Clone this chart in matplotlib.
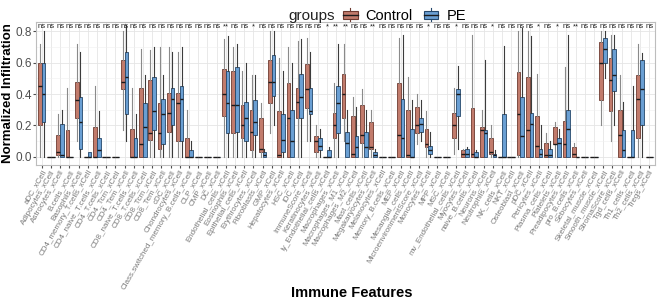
import numpy as np
import matplotlib
matplotlib.use("Agg")
import matplotlib.pyplot as plt
from matplotlib.patches import Patch, Rectangle
from matplotlib.lines import Line2D
from matplotlib.legend_handler import HandlerBase

plt.rcParams["font.family"] = ["Liberation Sans", "DejaVu Sans"]

features = [
    "aDC", "Adipocytes", "Astrocytes", "B.cells", "Basophils",
    "CD4_memory_T.cells", "CD4_naive_T.cells", "CD4_T.cells", "CD4_Tcm", "CD4_Tem",
    "CD8_naive_T.cells", "CD8_T.cells", "CD8_Tcm", "CD8_Tem", "cDC",
    "Chondrocytes", "Class.switched_memory_B.cells", "CLP", "CMP", "DC",
    "Endothelial_cells", "Eosinophils", "Epithelial_cells", "Erythrocytes", "Fibroblasts",
    "GMP", "Hepatocytes", "HSC", "iDC", "ImmuneScore",
    "Keratinocytes", "ly_Endothelial_cells", "Macrophages", "Macrophages_M1", "Macrophages_M2",
    "Mast_cells", "Megakaryocytes", "Melanocytes", "Memory_B.cells", "MEP",
    "Mesangial_cells", "MicroenvironmentScore", "Monocytes", "MPP", "MSC",
    "mv_Endothelial_cells", "Myocytes", "naive_B.cells", "Neurons", "Neutrophils",
    "NK_cells", "NKT", "Osteoblast", "pDC", "Pericytes",
    "Plasma_cells", "Platelets", "Preadipocytes", "pro_B.cells", "Sebocytes",
    "Skeletal_muscle", "Smooth_muscle", "StromaScore", "Tgd_cells", "Th1_cells",
    "Th2_cells", "Tregs",
]
tick_labels = [f + "_xCell" for f in features]

signif = (["ns"] * 20 + ["**", "ns", "ns", "*"] + ["ns"] * 7 + ["*", "**", "**", "ns", "ns", "**"]
          + ["ns"] * 5 + ["*", "ns", "ns", "*", "ns", "ns", "ns", "*"] + ["ns"] * 4
          + ["*", "ns", "*", "ns", "**"] + ["ns"] * 8)

# Control: whisker low, q1, median, q3, whisker high
ctrl_lo = [0, 0, 0, 0, .10, 0, 0, 0, 0, .17, 0, 0, 0, 0, 0, 0, 0, 0, 0, 0,
           0, 0, 0, 0, 0, .15, 0, 0, 0, .10, 0, 0, 0, .10, 0, 0, 0, 0, 0, 0,
           0, .08, 0, 0, 0, .02, 0, 0, 0, 0, 0, 0, 0, 0, 0, 0, 0, 0, 0, 0,
           0, .20, .10, 0, 0, 0, 0]
ctrl_q1 = [.20, 0, .01, 0, .25, 0, 0, 0, 0, .43, 0, 0, .11, .05, .16, .10, 0, 0, 0, 0,
           .26, .15, .12, .04, .03, .34, 0, 0, .25, .31, .03, 0, .12, .25, 0, .09, .05, 0, 0, 0,
           0, .15, .06, 0, 0, .12, 0, 0, 0, .02, 0, 0, .01, 0, 0, 0, .08, 0, 0, 0,
           0, .36, .29, 0, 0, .12, 0]
ctrl_med = [.45, 0, .03, 0, .36, 0, 0, 0, 0, .48, 0, .08, .15, .15, .28, .34, 0, 0, 0, 0,
            .40, .33, .20, .16, .05, .48, .01, .25, .35, .43, .10, 0, .20, .40, .02, .14, .06, 0, 0, .14,
            .01, .20, .08, 0, 0, .20, .02, .02, .17, .03, 0, 0, .27, .17, .07, .01, .08, .08, .02, 0,
            0, .60, .49, .14, 0, .37, 0]
ctrl_q3 = [.60, 0, .14, .17, .48, 0, .19, 0, 0, .62, .18, .44, .49, .34, .41, .41, .12, 0, 0, 0,
           .56, .55, .33, .30, .25, .62, .29, .47, .44, .59, .13, 0, .28, .53, .26, .33, .22, 0, 0, .47,
           .30, .32, .18, 0, 0, .28, .04, .31, .19, .12, 0, 0, .54, .51, .26, .09, .19, .23, .06, 0,
           0, .73, .63, .30, 0, .52, 0]
ctrl_hi = [.72, 0, .27, .44, .72, 0, .45, 0, 0, .80, .44, .69, .68, .70, .70, .67, .30, 0, 0, 0,
           .75, .70, .55, .52, .34, .80, .63, .70, .74, .76, .20, 0, .47, .72, .38, .43, .30, 0, 0, .76,
           .51, .40, .29, 0, 0, .44, .05, .78, .30, .20, 0, 0, .80, .80, .53, .15, .22, .57, .09, 0,
           0, .80, .78, .52, 0, .72, 0]

# PE: whisker low, q1, median, q3, whisker high
pe_lo = [0, 0, 0, 0, 0, 0, 0, 0, 0, .10, 0, 0, 0, 0, 0, 0, 0, 0, 0, 0,
         0, 0, 0, 0, 0, .20, 0, 0, 0, .10, 0, 0, 0, 0, 0, 0, 0, 0, 0, 0,
         0, .10, 0, 0, 0, .05, 0, 0, 0, 0, 0, 0, 0, 0, 0, 0, 0, 0, 0, 0,
         0, .50, .20, 0, 0, 0, 0]
pe_q1 = [.22, 0, 0, 0, .05, 0, 0, 0, 0, .27, 0, 0, .17, .08, .20, .10, 0, 0, 0, 0,
         .15, .16, .10, .14, 0, .39, .03, 0, .25, .27, .04, 0, .15, 0, 0, 0, 0, 0, 0, 0,
         0, .16, .02, 0, 0, .26, 0, 0, 0, 0, 0, 0, 0, 0, 0, 0, 0, 0, 0, 0,
         0, .60, .42, 0, 0, .20, 0]
pe_med = [.40, 0, .01, 0, .22, 0, .04, 0, 0, .51, 0, .19, .29, .27, .37, .37, 0, 0, 0, 0,
          .34, .33, .25, .22, .01, .48, .11, .10, .38, .29, .07, 0, .34, .09, .06, .06, .01, 0, 0, .12,
          0, .21, .04, 0, 0, .40, .02, 0, .15, .01, 0, 0, .13, .21, .02, .01, .09, .18, 0, 0,
          0, .69, .52, .04, 0, .43, 0]
pe_q3 = [.60, 0, .21, 0, .38, .03, .12, 0, 0, .67, .12, .34, .51, .37, .44, .45, .04, 0, 0, 0,
         .55, .57, .35, .36, .03, .65, .27, .30, .53, .44, .12, .04, .45, .16, .13, .16, .03, 0, 0, .37,
         .18, .25, .07, 0, 0, .43, .05, .03, .17, .02, .27, 0, .38, .28, .05, .05, .12, .30, 0, 0,
         0, .76, .69, .17, .17, .62, 0]
pe_hi = [.80, 0, .30, 0, .67, .03, .29, 0, 0, .84, .27, .52, .70, .52, .67, .70, .10, 0, 0, 0,
         .77, .72, .60, .52, .05, .80, .55, .60, .75, .67, .18, .06, .72, .30, .32, .30, .05, 0, 0, .78,
         .36, .36, .16, 0, 0, .58, .06, .04, .62, .04, .71, 0, .82, .77, .20, .10, .18, .78, 0, 0,
         0, .80, .78, .35, .45, .66, 0]

groups = ["Control", "PE"]
fill = {"Control": "#c17b6c", "PE": "#6a9fd3"}
edge = {"Control": "#6e3a30", "PE": "#24476b"}
whisk = {"Control": "#8a8a8a", "PE": "#3c3c3c"}


def make_stats(lo, q1, med, q3, hi):
    return [dict(whislo=a, q1=b, med=c, q3=d, whishi=e, fliers=[])
            for a, b, c, d, e in zip(lo, q1, med, q3, hi)]


class BoxKey(HandlerBase):
    # ggplot-like boxplot legend key
    def create_artists(self, legend, orig, xd, yd, width, height, fontsize, trans):
        x0, w = -xd + width * 0.12, width * 0.76
        y0, h = -yd + height * 0.18, height * 0.64
        ec = orig.get_edgecolor()
        rect = Rectangle((x0, y0), w, h, facecolor=orig.get_facecolor(),
                         edgecolor=ec, linewidth=0.8, transform=trans)
        med = Line2D([x0, x0 + w], [y0 + h / 2] * 2, color="#1a1a1a", lw=1.0, transform=trans)
        lo = Line2D([x0 + w / 2] * 2, [-yd, y0], color=ec, lw=0.8, transform=trans)
        hi = Line2D([x0 + w / 2] * 2, [y0 + h, -yd + height], color=ec, lw=0.8, transform=trans)
        return [rect, med, lo, hi]


fig = plt.figure(figsize=(6.58, 3.02), dpi=100)
ax = fig.add_axes([0.055, 0.455, 0.94, 0.472])

x = np.arange(len(features))
series = {
    "Control": make_stats(ctrl_lo, ctrl_q1, ctrl_med, ctrl_q3, ctrl_hi),
    "PE": make_stats(pe_lo, pe_q1, pe_med, pe_q3, pe_hi),
}
for off, g in zip([-0.2, 0.2], groups):
    ax.bxp(series[g], positions=x + off, widths=0.4, patch_artist=True,
           showfliers=False, showcaps=False, manage_ticks=False,
           boxprops=dict(facecolor=fill[g], edgecolor=edge[g], linewidth=0.6),
           medianprops=dict(color="#1a1a1a", linewidth=1.0),
           whiskerprops=dict(color=whisk[g], linewidth=0.8),
           zorder=3)

for i, s in enumerate(signif):
    ax.text(x[i], 0.83, s, ha="center", va="center", fontsize=5.5, color="#222222")

ax.set_xlim(-0.6, len(features) - 0.4)
ax.set_ylim(-0.05, 0.86)
ax.set_xticks(x)
ax.set_xticklabels(tick_labels, rotation=60, ha="right", rotation_mode="anchor",
                   fontsize=5.8, color="#7a7a7a")
ax.set_yticks([0, 0.2, 0.4, 0.6, 0.8])
ax.set_yticklabels(["0.0", "0.2", "0.4", "0.6", "0.8"], fontsize=8.5, color="#4d4d4d")
ax.set_yticks([0.1, 0.3, 0.5, 0.7], minor=True)
ax.tick_params(axis="both", length=2, color="#4d4d4d", pad=1)
ax.tick_params(axis="y", which="minor", length=0)
ax.grid(True, which="major", color="#e5e5e5", linewidth=0.6, zorder=0)
ax.grid(True, which="minor", axis="y", color="#f0f0f0", linewidth=0.4, zorder=0)
ax.set_axisbelow(True)
for sp in ax.spines.values():
    sp.set_color("#bdbdbd")
    sp.set_linewidth(0.8)

ax.set_ylabel("Normalized Infiltration", fontsize=9.5, fontweight="bold", labelpad=1)
fig.text(0.535, 0.03, "Immune Features", ha="center", va="center",
         fontsize=10.5, fontweight="bold")

fig.text(0.509, 0.948, "groups", ha="right", va="center", fontsize=11, color="#222222")
handles = [Patch(facecolor=fill[g], edgecolor=edge[g], label=g) for g in groups]
fig.legend(handles=handles, loc="center left", bbox_to_anchor=(0.518, 0.948), ncol=2,
           frameon=False, fontsize=10.5, handlelength=1.3, handleheight=1.0,
           handletextpad=0.4, columnspacing=0.6, borderaxespad=0, borderpad=0,
           handler_map={Patch: BoxKey()})

fig.savefig("out.png", dpi=100)
